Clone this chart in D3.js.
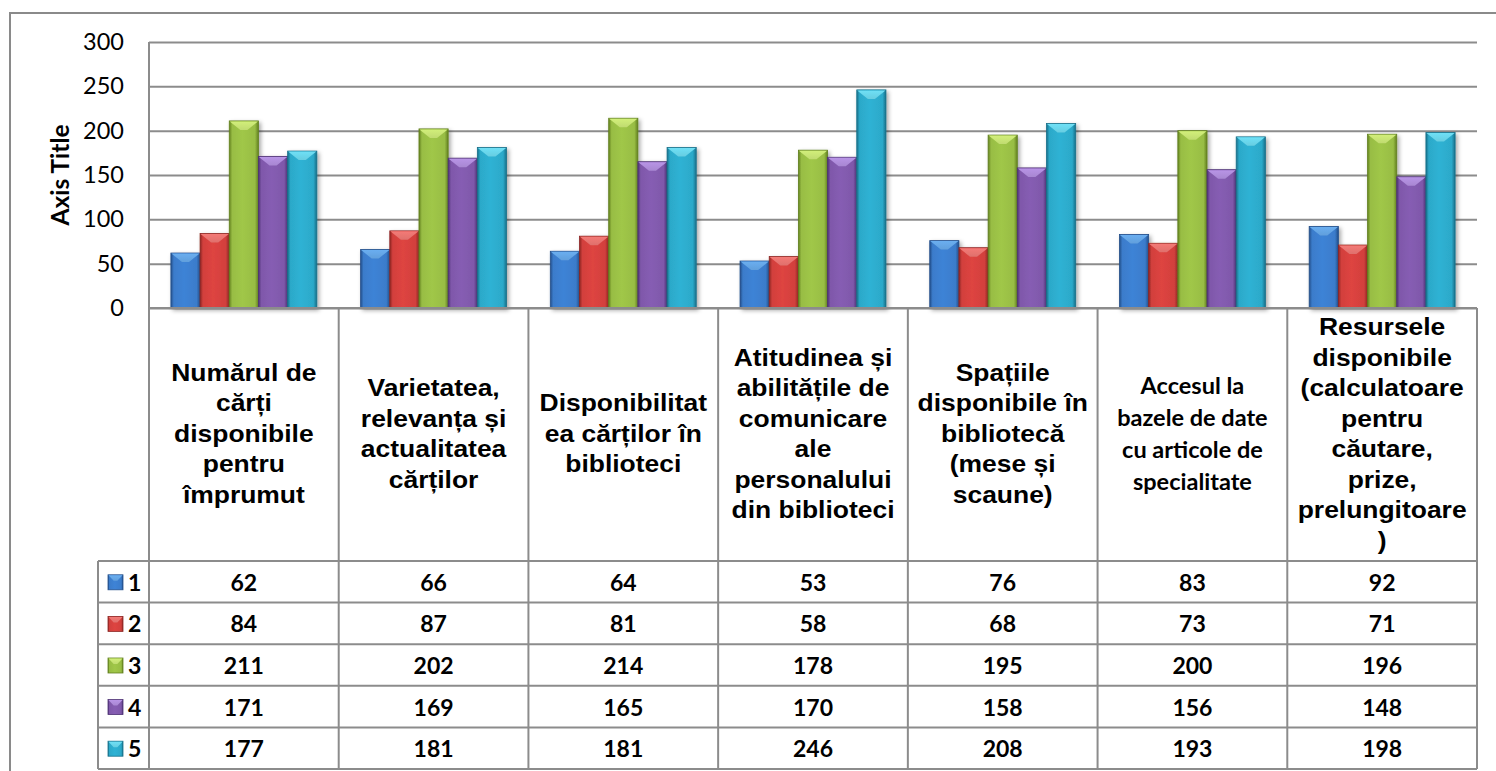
<!DOCTYPE html>
<html>
<head>
<meta charset="utf-8">
<script src="https://cdn.jsdelivr.net/npm/d3@7"></script>
<style>
  html, body { margin: 0; padding: 0; background: #fff; }
  svg { display: block; }
</style>
</head>
<body>
<svg id="chart" width="1496" height="771"></svg>
<script>
// ---------------- DATA ----------------
const categoryLines = [
  ["Numărul de", "cărți", "disponibile", "pentru", "împrumut"],
  ["Varietatea,", "relevanța și", "actualitatea", "cărților"],
  ["Disponibilitat", "ea cărților în", "biblioteci"],
  ["Atitudinea și", "abilitățile de", "comunicare", "ale", "personalului", "din biblioteci"],
  ["Spațiile", "disponibile în", "bibliotecă", "(mese și", "scaune)"],
  ["Accesul la", "bazele de date", "cu articole de", "specialitate"],
  ["Resursele", "disponibile", "(calculatoare", "pentru", "căutare,", "prize,", "prelungitoare", ")"]
];
const categories = categoryLines.map(l => l.join(" "));
const seriesNames = ["1", "2", "3", "4", "5"];
const series1 = [62, 66, 64, 53, 76, 83, 92];
const series2 = [84, 87, 81, 58, 68, 73, 71];
const series3 = [211, 202, 214, 178, 195, 200, 196];
const series4 = [171, 169, 165, 170, 158, 156, 148];
const series5 = [177, 181, 181, 246, 208, 193, 198];
const yTicks = [0, 50, 100, 150, 200, 250, 300];
const yAxisTitle = "Axis Title";

const seriesValues = [series1, series2, series3, series4, series5];

// ---------------- STYLE ----------------
const palette = [
  { face: "#3b7ccb", light: "#6aaef0", dark: "#234f8a" },
  { face: "#d2403d", light: "#f47a76", dark: "#8e2623" },
  { face: "#98bd44", light: "#d2ef7a", dark: "#62801f" },
  { face: "#7f58aa", light: "#b894e6", dark: "#4e3275" },
  { face: "#2ca9c9", light: "#6fe0f6", dark: "#17708a" }
];
const gridColor = "#8c8c8c";
const calibri = "Lato, 'Open Sans', sans-serif";
const arial = "'Liberation Sans', Arial, sans-serif";

// ---------------- LAYOUT ----------------
const svg = d3.select("#chart");
const plotLeft = 149, plotRight = 1477, plotTop = 42, plotBottom = 308;
const headerTop = 310, headerBottom = 561, tableBottom = 769, legendLeft = 98;

const x = d3.scaleBand().domain(categories).range([plotLeft, plotRight]).paddingInner(0).paddingOuter(0);
const xs = d3.scaleBand().domain(seriesNames).range([0, x.bandwidth()]).paddingInner(0).paddingOuter(0.75);
const y = d3.scaleLinear().domain([0, 300]).range([plotBottom, plotTop]);

// defs
const defs = svg.append("defs");
const shadow = defs.append("filter").attr("id", "shadow").attr("x", "-30%").attr("y", "-10%").attr("width", "170%").attr("height", "130%");
shadow.append("feDropShadow").attr("dx", 2).attr("dy", 2).attr("stdDeviation", 2).attr("flood-color", "#000").attr("flood-opacity", 0.35);
palette.forEach((p, i) => {
  const g = defs.append("linearGradient").attr("id", "grad" + i).attr("x1", "0").attr("x2", "1").attr("y1", "0").attr("y2", "0");
  g.append("stop").attr("offset", "0%").attr("stop-color", p.dark);
  g.append("stop").attr("offset", "10%").attr("stop-color", p.face);
  g.append("stop").attr("offset", "45%").attr("stop-color", d3.color(p.face).brighter(0.15));
  g.append("stop").attr("offset", "88%").attr("stop-color", p.face);
  g.append("stop").attr("offset", "100%").attr("stop-color", p.dark);
  const gt = defs.append("linearGradient").attr("id", "gradTop" + i).attr("x1", "0").attr("x2", "0").attr("y1", "0").attr("y2", "1");
  gt.append("stop").attr("offset", "0%").attr("stop-color", p.light);
  gt.append("stop").attr("offset", "100%").attr("stop-color", d3.color(p.light).darker(0.25));
});

// outer chart border
svg.append("rect").attr("x", 10).attr("y", 13).attr("width", 1500).attr("height", 800)
  .attr("fill", "#fff").attr("stroke", "#8a8a8a").attr("stroke-width", 2);

// y axis with gridlines
const yAxis = d3.axisLeft(y).tickValues(yTicks).tickSize(-(plotRight - plotLeft)).tickPadding(25);
const gy = svg.append("g").attr("transform", `translate(${plotLeft},0)`).call(yAxis);
gy.select(".domain").remove();
gy.selectAll(".tick line").attr("stroke", gridColor).attr("stroke-width", 2);
gy.selectAll(".tick text").attr("font-family", calibri).attr("font-size", 23.5).attr("fill", "#000");

// left plot line
svg.append("line").attr("x1", plotLeft).attr("x2", plotLeft).attr("y1", plotTop).attr("y2", tableBottom)
  .attr("stroke", gridColor).attr("stroke-width", 2);

// axis title
svg.append("text").attr("transform", `translate(69,${(plotTop + plotBottom) / 2}) rotate(-90)`)
  .attr("text-anchor", "middle").attr("font-family", calibri).attr("font-weight", "bold")
  .attr("font-size", 24.5).attr("fill", "#000").text(yAxisTitle);

// bars
function drawBevel(g, x0, y0, w, h, i, capH) {
  const p = palette[i];
  g.append("rect").attr("x", x0).attr("y", y0).attr("width", w).attr("height", h)
    .attr("fill", `url(#grad${i})`).attr("stroke", p.dark).attr("stroke-width", 0.8);
  const t = Math.min(capH, h);
  g.append("path").attr("d", `M${x0 + 0.5},${y0 + 0.5} L${x0 + w - 0.5},${y0 + 0.5} L${x0 + w * 0.62},${y0 + t} L${x0 + w * 0.38},${y0 + t} Z`)
    .attr("fill", `url(#gradTop${i})`);
}

const barsG = svg.append("g").attr("filter", "url(#shadow)");
seriesValues.forEach((vals, si) => {
  vals.forEach((v, ci) => {
    const x0 = x(categories[ci]) + xs(seriesNames[si]);
    const y0 = y(v);
    const g = barsG.append("g");
    drawBevel(g, x0, y0, xs.bandwidth(), y(0) - y0, si, 9);
  });
});

// baseline
svg.append("line").attr("x1", plotLeft).attr("x2", plotRight).attr("y1", y(0)).attr("y2", y(0))
  .attr("stroke", gridColor).attr("stroke-width", 2);

// ---------------- DATA TABLE ----------------
const table = svg.append("g");
const rowH = (tableBottom - headerBottom) / seriesNames.length;
const lineStyle = s => s.attr("stroke", gridColor).attr("stroke-width", 2);

categories.forEach((c, i) => {
  if (i > 0) lineStyle(table.append("line").attr("x1", x(c)).attr("x2", x(c)).attr("y1", y(0)).attr("y2", tableBottom));
});
lineStyle(table.append("line").attr("x1", plotRight).attr("x2", plotRight).attr("y1", y(0)).attr("y2", tableBottom));
lineStyle(table.append("line").attr("x1", legendLeft).attr("x2", legendLeft).attr("y1", headerBottom).attr("y2", tableBottom));
d3.range(seriesNames.length + 1).forEach(r => {
  const yy = headerBottom + r * rowH;
  lineStyle(table.append("line").attr("x1", legendLeft).attr("x2", plotRight).attr("y1", yy).attr("y2", yy));
});

// category header labels
const headerMid = 442;
categoryLines.forEach((lines, ci) => {
  const isCalibri = ci === 5;
  const lh = isCalibri ? 32 : 30.5;
  const cx = x(categories[ci]) + x.bandwidth() / 2;
  const t = table.append("text")
    .attr("font-family", isCalibri ? calibri : arial)
    .attr("font-weight", "bold")
    .attr("font-size", isCalibri ? 23.5 : 23)
    .attr("text-anchor", "middle")
    .attr("fill", "#000")
    .attr("transform", isCalibri ? `translate(${cx},0)` : `translate(${cx},0) scale(1.15,1)`);
  lines.forEach((ln, k) => {
    t.append("tspan").attr("x", 0).attr("y", headerMid + (k - (lines.length - 1) / 2) * lh).text(ln);
  });
});

// data rows
seriesNames.forEach((s, si) => {
  const rowMid = headerBottom + si * rowH + rowH / 2;
  const sw = table.append("g");
  drawBevel(sw, 108, rowMid - 7, 15, 15, si, 6);
  table.append("text").attr("x", 128).attr("y", rowMid + 9)
    .attr("font-family", calibri).attr("font-weight", "bold").attr("font-size", 23)
    .attr("fill", "#000").text(s);
  seriesValues[si].forEach((v, ci) => {
    table.append("text").attr("x", x(categories[ci]) + x.bandwidth() / 2).attr("y", rowMid + 9)
      .attr("text-anchor", "middle").attr("font-family", calibri).attr("font-weight", "bold")
      .attr("font-size", 23).attr("fill", "#000").text(v);
  });
});
</script>
</body>
</html>
